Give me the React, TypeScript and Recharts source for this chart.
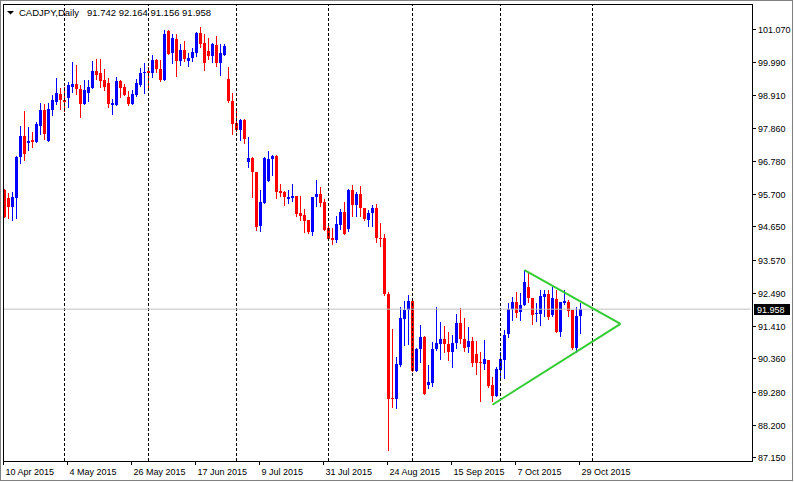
import { ComposedChart, Bar, Line, XAxis, YAxis, ReferenceLine } from "recharts";

// CADJPY daily, 10 Apr 2015 .. 29 Oct 2015 (one entry per bar)
const openP = [
  95.83, 95.57, 95.28, 95.57, 96.91, 97.59, 97.36, 97.46, 97.39, 97.91,
  98.44, 97.43, 98.44, 98.7, 98.96, 98.76, 98.83, 99.18, 99.28, 99.12,
  98.63, 98.99, 99.15, 99.7, 99.64, 99.41, 99.31, 98.6, 98.6, 99.38,
  99.18, 98.86, 98.63, 98.92, 99.25, 99.64, 99.7, 99.64, 100.06, 99.77,
  99.41, 101.0, 100.29, 100.74, 100.03, 100.39, 100.03, 100.13, 100.29, 100.94,
  100.61, 100.35, 100.19, 100.55, 99.96, 100.22, 99.44, 98.73, 98.01, 97.79,
  98.11, 96.74, 96.87, 96.42, 94.66, 95.41, 96.13, 96.84, 96.94, 95.8,
  95.77, 95.54, 95.57, 95.64, 95.09, 95.02, 94.86, 94.47, 95.61, 95.7,
  95.44, 94.6, 94.27, 94.21, 94.7, 95.12, 94.57, 95.83, 95.35, 95.7,
  95.25, 94.86, 95.09, 95.25, 94.27, 94.27, 92.45, 89.07, 89.04, 90.14,
  91.64, 91.93, 92.23, 89.95, 90.66, 91.05, 89.5, 89.56, 90.66, 90.82,
  90.99, 90.82, 90.57, 90.86, 91.51, 90.99, 90.73, 90.92, 90.5, 90.24,
  90.18, 90.31, 89.49, 89.14, 89.98, 90.31, 91.15, 91.97, 92.19, 91.86,
  92.09, 92.68, 92.32, 91.8, 91.8, 92.35, 92.45, 91.77, 92.29, 91.22,
  92.16, 92.19, 91.93, 90.7, 91.742,
];
const highP = [
  95.85, 95.74, 95.77, 96.94, 97.91, 98.4, 97.88, 97.72, 98.05, 98.66,
  98.63, 98.66, 98.92, 99.48, 99.15, 99.18, 99.35, 100.0, 99.9, 99.25,
  99.41, 99.41, 100.03, 100.09, 100.09, 99.77, 99.48, 98.79, 99.51, 99.41,
  99.28, 99.05, 99.09, 99.44, 99.8, 99.96, 99.83, 100.22, 100.09, 100.06,
  101.04, 101.04, 100.91, 100.91, 100.58, 100.68, 100.29, 100.45, 100.97, 101.14,
  100.91, 100.78, 100.61, 100.84, 100.58, 100.58, 99.83, 98.99, 98.5, 98.14,
  98.14, 97.56, 96.91, 96.42, 95.83, 96.91, 97.1, 96.97, 96.97, 96.03,
  95.8, 95.83, 96.03, 95.64, 95.64, 95.22, 94.86, 95.61, 96.16, 95.93,
  95.54, 94.73, 94.6, 94.99, 95.22, 95.44, 95.86, 96.0, 95.77, 95.96,
  95.25, 95.18, 95.35, 95.38, 94.76, 94.4, 92.52, 91.31, 90.4, 92.03,
  92.23, 92.42, 92.26, 90.69, 91.44, 91.09, 90.14, 90.89, 92.03, 91.54,
  91.41, 91.22, 91.12, 91.8, 92.0, 91.67, 91.38, 91.05, 90.92, 90.57,
  90.96, 90.31, 89.75, 90.08, 90.57, 91.28, 92.16, 92.35, 92.52, 92.48,
  93.23, 93.17, 92.32, 92.16, 92.58, 92.58, 92.58, 92.68, 92.58, 92.19,
  92.58, 92.26, 91.93, 92.03, 92.164,
];
const lowP = [
  94.93, 94.89, 94.83, 94.89, 96.68, 96.78, 97.1, 97.2, 97.36, 97.62,
  97.46, 97.4, 98.24, 98.6, 98.44, 98.37, 98.5, 98.99, 98.92, 98.18,
  98.6, 98.7, 99.12, 99.41, 99.15, 99.05, 98.5, 98.27, 98.57, 98.83,
  98.89, 98.57, 98.6, 98.86, 99.18, 98.96, 99.05, 99.48, 99.64, 99.35,
  99.38, 100.23, 99.93, 99.51, 99.86, 99.99, 99.83, 99.99, 100.16, 100.45,
  99.7, 100.06, 99.96, 99.83, 99.54, 100.19, 98.66, 97.62, 97.72, 97.43,
  97.33, 96.55, 95.57, 94.5, 94.47, 95.38, 96.1, 96.29, 95.54, 95.61,
  95.31, 95.38, 95.44, 94.96, 94.83, 94.44, 94.4, 94.34, 95.28, 95.28,
  94.5, 94.21, 94.05, 94.11, 94.53, 94.37, 94.47, 94.96, 94.96, 94.96,
  94.83, 94.63, 94.63, 94.11, 93.98, 92.39, 87.35, 88.74, 88.71, 90.08,
  90.76, 90.79, 89.92, 89.92, 90.21, 89.17, 89.36, 89.43, 90.6, 90.31,
  90.53, 90.27, 90.05, 90.66, 90.82, 90.57, 90.53, 90.08, 89.82, 88.94,
  89.98, 89.4, 88.94, 89.1, 89.65, 89.69, 91.02, 91.57, 91.67, 91.57,
  92.06, 92.16, 91.44, 91.54, 91.41, 91.7, 91.61, 91.7, 91.18, 91.05,
  92.09, 91.7, 90.63, 90.53, 91.156,
];
const closeP = [
  94.96, 95.28, 95.61, 96.91, 97.59, 97.0, 97.43, 97.39, 97.98, 98.44,
  97.66, 98.47, 98.76, 98.99, 98.76, 98.7, 99.25, 99.28, 99.12, 98.63,
  99.09, 99.18, 99.7, 99.57, 99.38, 99.18, 98.63, 98.66, 99.38, 99.15,
  98.92, 98.63, 98.96, 99.31, 99.64, 99.67, 99.64, 100.06, 99.77, 99.41,
  100.91, 100.26, 100.78, 100.03, 100.39, 100.09, 100.13, 100.32, 100.94, 100.58,
  99.96, 100.19, 100.58, 99.96, 100.29, 100.52, 98.73, 97.98, 97.79, 98.11,
  97.49, 96.87, 96.42, 94.63, 95.44, 96.87, 96.84, 96.94, 95.77, 95.74,
  95.61, 95.61, 95.64, 95.05, 94.99, 94.83, 94.47, 95.61, 95.7, 95.41,
  94.53, 94.24, 94.21, 94.73, 95.12, 94.4, 95.83, 95.35, 95.7, 95.25,
  94.89, 95.09, 95.25, 94.27, 94.24, 92.45, 89.04, 89.04, 90.18, 91.67,
  91.93, 92.23, 89.95, 90.66, 91.05, 89.2, 89.59, 90.66, 90.86, 90.99,
  90.82, 90.57, 90.86, 91.51, 90.99, 90.7, 90.92, 90.21, 90.21, 90.21,
  90.34, 89.46, 89.14, 90.01, 90.34, 91.12, 91.97, 92.19, 91.83, 92.09,
  92.84, 92.32, 91.77, 91.83, 92.39, 92.45, 91.7, 92.32, 91.22, 92.19,
  92.23, 91.9, 90.7, 91.74, 91.958,
];

const dateLabels = [
  "10 Apr 2015", "4 May 2015", "26 May 2015", "17 Jun 2015", "9 Jul 2015",
  "31 Jul 2015", "24 Aug 2015", "15 Sep 2015", "7 Oct 2015", "29 Oct 2015",
];
const dateLabelBars = [0, 16, 32, 48, 64, 80, 96, 112, 128, 144];
const monthStartBars = [15, 36, 58, 81, 102, 124, 147];
const priceTicks = [
  101.07, 99.99, 98.91, 97.86, 96.78, 95.7, 94.65, 93.57, 92.49, 91.41,
  90.36, 89.28, 88.2, 87.15,
];
// hand-drawn triangle: [bar, price]
const triUpper = [[130, 93.23], [154, 91.48]];
const triLower = [[122, 88.85], [154, 91.48]];

const lastClose = 91.958;
const SLOTS = 187;
const FONT = "'Liberation Sans', Arial, sans-serif";

const rows = Array.from({ length: SLOTS }, (_, i) => {
  const up = triUpper.find((p) => p[0] === i);
  const dn = triLower.find((p) => p[0] === i);
  return {
    i,
    o: openP[i] ?? null,
    h: highP[i] ?? null,
    l: lowP[i] ?? null,
    c: closeP[i] ?? null,
    triUp: up ? up[1] : null,
    triDn: dn ? dn[1] : null,
  };
});

function Candle(props: any) {
  const { x, y, width, height, payload } = props;
  if (!payload || payload.o == null || height == null || isNaN(y)) return <g />;
  const { o, h, l, c } = payload;
  const py = (p: number) => y + ((h - p) / (h - l)) * height;
  const cx = x + width / 2;
  const color = c > o ? "#0000FF" : "#FF0000";
  const top = Math.round(py(Math.max(o, c)));
  const bot = Math.round(py(Math.min(o, c)));
  const wTop = Math.round(y);
  const wBot = Math.round(y + height);
  return (
    <g shapeRendering="crispEdges">
      <rect x={Math.floor(cx)} y={wTop} width={1} height={Math.max(1, wBot - wTop)} fill={color} />
      <rect x={Math.round(cx - 1.5)} y={top} width={3} height={Math.max(1, bot - top)} fill={color} />
    </g>
  );
}

function DateTick(props: any) {
  const { x, y, payload } = props;
  const k = dateLabelBars.indexOf(payload.value);
  if (k < 0) return <g />;
  const tx = Math.floor(x - 1) + 0.5;
  return (
    <g>
      <line x1={tx} x2={tx} y1={y} y2={y + 4} stroke="#000" shapeRendering="crispEdges" />
      <text x={tx + 2} y={y + 14} fontSize={9} fontFamily={FONT} fill="#000">
        {dateLabels[k]}
      </text>
    </g>
  );
}

function PriceTick(props: any) {
  const { x, y, payload } = props;
  if (payload.value === lastClose) {
    return (
      <g>
        <rect x={x + 3.5} y={Math.round(y) - 5} width={36} height={11} fill="#000" />
        <text x={x + 6.5} y={Math.round(y) + 3.5} fontSize={9} fontFamily={FONT} fill="#fff">
          {lastClose.toFixed(3)}
        </text>
      </g>
    );
  }
  const ty = Math.round(y) + 0.5;
  return (
    <g>
      <line x1={x + 2} x2={x + 5.5} y1={ty} y2={ty} stroke="#000" shapeRendering="crispEdges" />
      <text x={x + 7.5} y={ty + 3} fontSize={9} fontFamily={FONT} fill="#000">
        {payload.value.toFixed(3)}
      </text>
    </g>
  );
}

export default function App() {
  return (
    <div style={{ position: "absolute", left: 0, top: 0, width: 794, height: 482, background: "#fff" }}>
      <ComposedChart
        width={794}
        height={482}
        data={rows}
        margin={{ top: 4, right: 3.5, bottom: 3, left: 2.5 }}
      >
        <XAxis
          dataKey="i"
          type="category"
          ticks={dateLabelBars}
          interval={0}
          tick={<DateTick />}
          tickLine={false}
          axisLine={false}
          tickSize={0}
          tickMargin={0}
          height={18}
        />
        <YAxis
          orientation="right"
          type="number"
          domain={[87.02, 101.883]}
          allowDataOverflow
          ticks={[...priceTicks, lastClose]}
          interval={0}
          tick={<PriceTick />}
          tickLine={false}
          axisLine={false}
          tickSize={0}
          tickMargin={0}
          width={40}
        />
        {monthStartBars.map((b) => (
          <ReferenceLine key={b} x={b} stroke="#000" strokeDasharray="3 2" ifOverflow="visible" />
        ))}
        <ReferenceLine y={lastClose} stroke="#C0C0C0" />
        <Bar
          dataKey={(d: any) => (d.o == null ? null : [d.l, d.h])}
          shape={<Candle />}
          isAnimationActive={false}
        />
        <Line
          dataKey="triUp"
          stroke="#32CD32"
          strokeWidth={2}
          dot={false}
          activeDot={false}
          connectNulls
          isAnimationActive={false}
        />
        <Line
          dataKey="triDn"
          stroke="#32CD32"
          strokeWidth={2}
          dot={false}
          activeDot={false}
          connectNulls
          isAnimationActive={false}
        />
      </ComposedChart>
      <svg
        width={320}
        height={24}
        style={{ position: "absolute", left: 0, top: 0, pointerEvents: "none" }}
      >
        <polygon points="7,11 14,11 10.5,14.5" fill="#000" />
        <text x={19} y={16} fontSize={9.5} fontFamily={FONT} fill="#000">
          CADJPY,Daily
        </text>
        <text x={87} y={16} fontSize={9.5} fontFamily={FONT} fill="#000">
          {`${openP[144].toFixed(3)} ${highP[144].toFixed(3)} ${lowP[144].toFixed(3)} ${closeP[144].toFixed(3)}`}
        </text>
      </svg>
      <div
        style={{
          position: "absolute", left: 3, top: 4, width: 750, height: 458,
          border: "1px solid #000", boxSizing: "border-box", pointerEvents: "none",
        }}
      />
      <div
        style={{
          position: "absolute", left: 0, top: 0, width: 793, height: 481,
          border: "1px solid #808080", boxSizing: "border-box", pointerEvents: "none",
        }}
      />
    </div>
  );
}
